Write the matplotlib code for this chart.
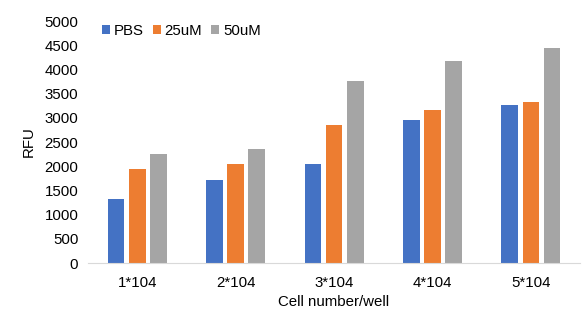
import matplotlib.pyplot as plt
import numpy as np

plt.rcParams['font.family'] = ['Liberation Sans', 'DejaVu Sans']

# Data
cells = ['1*104', '2*104', '3*104', '4*104', '5*104']
pbs = [1330, 1710, 2045, 2960, 3265]
uM25 = [1940, 2055, 2845, 3165, 3330]
uM50 = [2255, 2350, 3770, 4170, 4440]

fig = plt.figure(figsize=(5.83, 3.29), dpi=100)
ax = fig.add_axes([0.151, 0.2006, 0.844, 0.7354])

x = np.arange(len(cells))
w = 0.17
step = 0.215
ax.bar(x - step, pbs, w, color='#4472C4', label='PBS')
ax.bar(x, uM25, w, color='#ED7D31', label='25uM')
ax.bar(x + step, uM50, w, color='#A5A5A5', label='50uM')

ax.set_xlim(-0.5, 4.5)
ax.set_ylim(0, 5000)
ax.set_yticks(np.arange(0, 5001, 500))
ax.set_xticks(x)
ax.set_xticklabels(cells)
ax.tick_params(length=0, labelsize=10.8, colors='#000000')
ax.tick_params(axis='x', pad=9)
ax.tick_params(axis='y', pad=7)

for s in ['top', 'right', 'left']:
    ax.spines[s].set_visible(False)
ax.spines['bottom'].set_color('#D9D9D9')

ax.set_ylabel('RFU', fontsize=10.8, labelpad=6)
ax.set_xlabel('Cell number/well', fontsize=10.8, labelpad=4)

ax.legend(ncol=3, frameon=False, loc='upper left', bbox_to_anchor=(0.0, 1.045),
          fontsize=10.8, handlelength=0.55, handleheight=0.55, handletextpad=0.25,
          columnspacing=0.6)

fig.savefig('out.png', dpi=100)
